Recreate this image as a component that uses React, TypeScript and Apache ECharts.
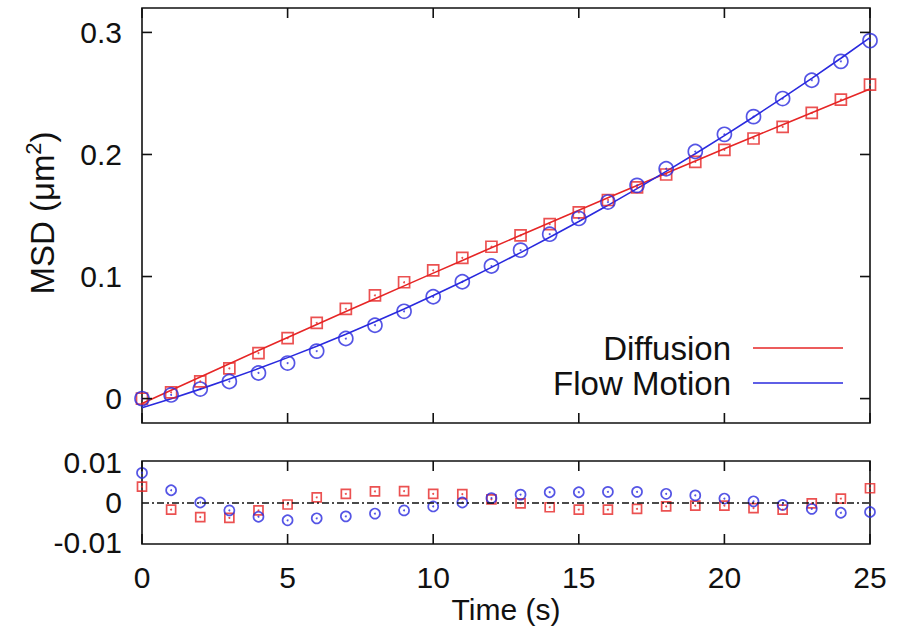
import React, { useEffect, useRef } from "react";
import * as echarts from "echarts";

// Lag times (s)
const times = [0, 1, 2, 3, 4, 5, 6, 7, 8, 9, 10, 11, 12, 13, 14, 15, 16, 17, 18, 19, 20, 21, 22, 23, 24, 25];

// Measured MSD (µm²)
const diffusionMsd = [0.0, 0.0051, 0.0141, 0.0247, 0.0373, 0.0495, 0.062, 0.0735, 0.0846, 0.0953, 0.105, 0.1153, 0.1244, 0.1337, 0.1429, 0.1525, 0.1627, 0.173, 0.1836, 0.1939, 0.2038, 0.2131, 0.2226, 0.234, 0.2449, 0.2572];
const flowMsd = [0.0, 0.003, 0.0078, 0.014, 0.021, 0.0291, 0.0389, 0.0492, 0.0601, 0.0715, 0.0834, 0.0957, 0.1086, 0.1216, 0.1347, 0.1476, 0.161, 0.1747, 0.1883, 0.2024, 0.2165, 0.231, 0.2458, 0.2608, 0.2763, 0.2933];

// Model fits evaluated at each lag time (µm²)
const diffusionFit = [-0.004, 0.00691, 0.01776, 0.02857, 0.03932, 0.05003, 0.06068, 0.07129, 0.08184, 0.09235, 0.1028, 0.11321, 0.12356, 0.13387, 0.14412, 0.15433, 0.16448, 0.17459, 0.18464, 0.19465, 0.2046, 0.21451, 0.22436, 0.23417, 0.24392, 0.25363];
const flowFit = [-0.0075, -0.00007, 0.00775, 0.01596, 0.02456, 0.03356, 0.04294, 0.05272, 0.06289, 0.07345, 0.0844, 0.09574, 0.10748, 0.11961, 0.13213, 0.14504, 0.15834, 0.17203, 0.18612, 0.20059, 0.21546, 0.23072, 0.24637, 0.26241, 0.27885, 0.29568];

// Residuals (data − fit, µm²)
const diffusionResidual = [0.004, -0.0018, -0.0037, -0.0039, -0.002, -0.0005, 0.0013, 0.0022, 0.0028, 0.0029, 0.0022, 0.0021, 0.0008, -0.0002, -0.0012, -0.0018, -0.0018, -0.0016, -0.001, -0.0008, -0.0008, -0.0014, -0.0018, -0.0002, 0.001, 0.0036];
const flowResidual = [0.0075, 0.0031, 0.0, -0.002, -0.0036, -0.0045, -0.004, -0.0035, -0.0028, -0.002, -0.001, 0.0, 0.0011, 0.002, 0.0026, 0.0026, 0.0027, 0.0027, 0.0022, 0.0018, 0.001, 0.0003, -0.0006, -0.0016, -0.0026, -0.0024];

// Tick labels
const msdTicks = [0, 0.1, 0.2, 0.3];
const residualTicks = [-0.01, 0, 0.01];
const timeTicks = [0, 5, 10, 15, 20, 25];

const legendNames = ["Diffusion", "Flow Motion"];

const RED = "#e62626";
const BLUE = "#2a2ade";
const INK = "#111";
const FONT = "'Liberation Sans', Arial, Helvetica, sans-serif";

// Panel frames (px)
const LEFT = 142;
const RIGHT = 34;
const WIDTH = 904;
const MAIN_TOP = 8;
const MAIN_H = 415;
const RES_TOP = 461;
const RES_H = 83;
const TICK_LEN = 10;

const pairs = (ys: number[]) => times.map((t, i) => [t, ys[i]]);

const xAxisFor = (gridIndex: number, position: "top" | "bottom", labels: boolean, extra: any = {}) => ({
  type: "value",
  gridIndex,
  position,
  min: times[0],
  max: times[times.length - 1],
  axisLine: { show: false, onZero: false },
  axisTick: { show: false },
  axisLabel: {
    show: labels,
    customValues: timeTicks,
    margin: 18,
    color: INK,
    fontSize: 30,
    fontFamily: FONT,
  },
  splitLine: { show: false },
  ...extra,
});

const msdAxis = (position: "left" | "right", labels: boolean) => ({
  type: "value",
  gridIndex: 0,
  position,
  min: -0.02,
  max: 0.32,
  axisLine: { show: false, onZero: false },
  axisTick: { show: false },
  axisLabel: {
    show: labels,
    customValues: msdTicks,
    margin: 20,
    color: INK,
    fontSize: 30,
    fontFamily: FONT,
    formatter: (v: number) => String(v),
  },
  splitLine: { show: false },
});

const App = () => {
  const ref = useRef<HTMLDivElement>(null);

  useEffect(() => {
    if (!ref.current) return;
    const chart = echarts.init(ref.current, null, { renderer: "svg" });

    const frame = { show: true, borderColor: INK, borderWidth: 1.6 };

    const markerSeries = (
      name: string,
      data: number[],
      xi: number,
      yi: number,
      symbol: string,
      size: number,
      color: string
    ) => [
      {
        name,
        type: "scatter",
        xAxisIndex: xi,
        yAxisIndex: yi,
        symbol,
        symbolSize: size,
        data: pairs(data),
        itemStyle: { color: "rgba(0,0,0,0)", borderColor: color, borderWidth: 1.7 },
        z: 3,
      },
      {
        name,
        type: "scatter",
        xAxisIndex: xi,
        yAxisIndex: yi,
        symbol: "circle",
        symbolSize: 2,
        data: pairs(data),
        itemStyle: { color },
        z: 4,
      },
    ];

    const labelGraphics: any[] = [
      {
        type: "text",
        x: 42,
        y: 213,
        rotation: Math.PI / 2,
        style: {
          text: "MSD (μm{sup|2})",
          fill: INK,
          fontSize: 33,
          fontFamily: FONT,
          align: "center",
          verticalAlign: "middle",
          lineHeight: 40,
          rich: {
            sup: { fontSize: 22, fontFamily: FONT, fill: INK, verticalAlign: "top", lineHeight: 40 },
          },
        },
      },
      {
        type: "text",
        x: 731,
        y: 348,
        style: { text: legendNames[0], fill: INK, fontSize: 33, fontFamily: FONT, align: "right", verticalAlign: "middle" },
      },
      {
        type: "line",
        shape: { x1: 753, y1: 348, x2: 843, y2: 348 },
        style: { stroke: RED, lineWidth: 1.6 },
      },
      {
        type: "text",
        x: 731,
        y: 383,
        style: { text: legendNames[1], fill: INK, fontSize: 33, fontFamily: FONT, align: "right", verticalAlign: "middle" },
      },
      {
        type: "line",
        shape: { x1: 753, y1: 383, x2: 843, y2: 383 },
        style: { stroke: BLUE, lineWidth: 1.6 },
      },
    ];

    const option: any = {
      animation: false,
      backgroundColor: "#fff",
      textStyle: { fontFamily: FONT },
      grid: [
        { left: LEFT, right: RIGHT, top: MAIN_TOP, height: MAIN_H, ...frame },
        { left: LEFT, right: RIGHT, top: RES_TOP, height: RES_H, ...frame },
      ],
      xAxis: [
        xAxisFor(0, "bottom", false),
        xAxisFor(0, "top", false),
        xAxisFor(1, "bottom", true, {
          name: "Time (s)",
          nameLocation: "middle",
          nameGap: 50,
          nameTextStyle: { color: INK, fontSize: 30, fontFamily: FONT },
        }),
        xAxisFor(1, "top", false),
      ],
      yAxis: [
        msdAxis("left", true),
        msdAxis("right", false),
        {
          type: "value",
          gridIndex: 1,
          position: "left",
          min: -0.0105,
          max: 0.0105,
          axisLine: { show: false, onZero: false },
          axisTick: { show: false },
          axisLabel: {
            customValues: residualTicks,
            margin: 20,
            color: INK,
            fontSize: 30,
            fontFamily: FONT,
            formatter: (v: number) => String(v),
          },
          splitLine: { show: false },
        },
      ],
      series: [
        {
          name: legendNames[0],
          type: "line",
          xAxisIndex: 0,
          yAxisIndex: 0,
          data: pairs(diffusionFit),
          showSymbol: false,
          symbol: "none",
          lineStyle: { color: RED, width: 1.6 },
          z: 2,
        },
        {
          name: legendNames[1],
          type: "line",
          xAxisIndex: 0,
          yAxisIndex: 0,
          data: pairs(flowFit),
          showSymbol: false,
          symbol: "none",
          lineStyle: { color: BLUE, width: 1.6 },
          z: 2,
        },
        ...markerSeries("diffusion data", diffusionMsd, 0, 0, "rect", 11, RED),
        ...markerSeries("flow data", flowMsd, 0, 0, "circle", 14, BLUE),
        {
          name: "zero",
          type: "line",
          xAxisIndex: 2,
          yAxisIndex: 2,
          data: [],
          markLine: {
            silent: true,
            symbol: "none",
            label: { show: false },
            lineStyle: { color: INK, width: 1.7, type: [7, 3, 2, 3] },
            data: [{ yAxis: 0 }],
          },
        },
        ...markerSeries("diffusion residual", diffusionResidual, 2, 2, "rect", 9, RED),
        ...markerSeries("flow residual", flowResidual, 2, 2, "circle", 10, BLUE),
      ],
      graphic: labelGraphics,
    };

    chart.setOption(option);

    // Inward tick marks on every frame edge, placed through the axes' own scales
    const tickLine = (x1: number, y1: number, x2: number, y2: number) => ({
      type: "line",
      z: 10,
      shape: { x1, y1, x2, y2 },
      style: { stroke: INK, lineWidth: 1.6 },
    });
    const ticks: any[] = [];
    const xRight = WIDTH - RIGHT;
    const frames = [
      { top: MAIN_TOP, bottom: MAIN_TOP + MAIN_H, xIndex: 0 },
      { top: RES_TOP, bottom: RES_TOP + RES_H, xIndex: 2 },
    ];
    frames.forEach((f) => {
      timeTicks.forEach((t) => {
        const px = chart.convertToPixel({ xAxisIndex: f.xIndex }, t) as number;
        ticks.push(tickLine(px, f.bottom, px, f.bottom - TICK_LEN));
        ticks.push(tickLine(px, f.top, px, f.top + TICK_LEN));
      });
    });
    msdTicks.forEach((v) => {
      const py = chart.convertToPixel({ yAxisIndex: 0 }, v) as number;
      ticks.push(tickLine(LEFT, py, LEFT + TICK_LEN, py));
      ticks.push(tickLine(xRight, py, xRight - TICK_LEN, py));
    });

    chart.setOption({ graphic: [...labelGraphics, ...ticks] });

    return () => chart.dispose();
  }, []);

  return (
    <div
      ref={ref}
      style={{ position: "fixed", left: 0, top: 0, width: 904, height: 630, background: "#fff" }}
    />
  );
};

export default App;
